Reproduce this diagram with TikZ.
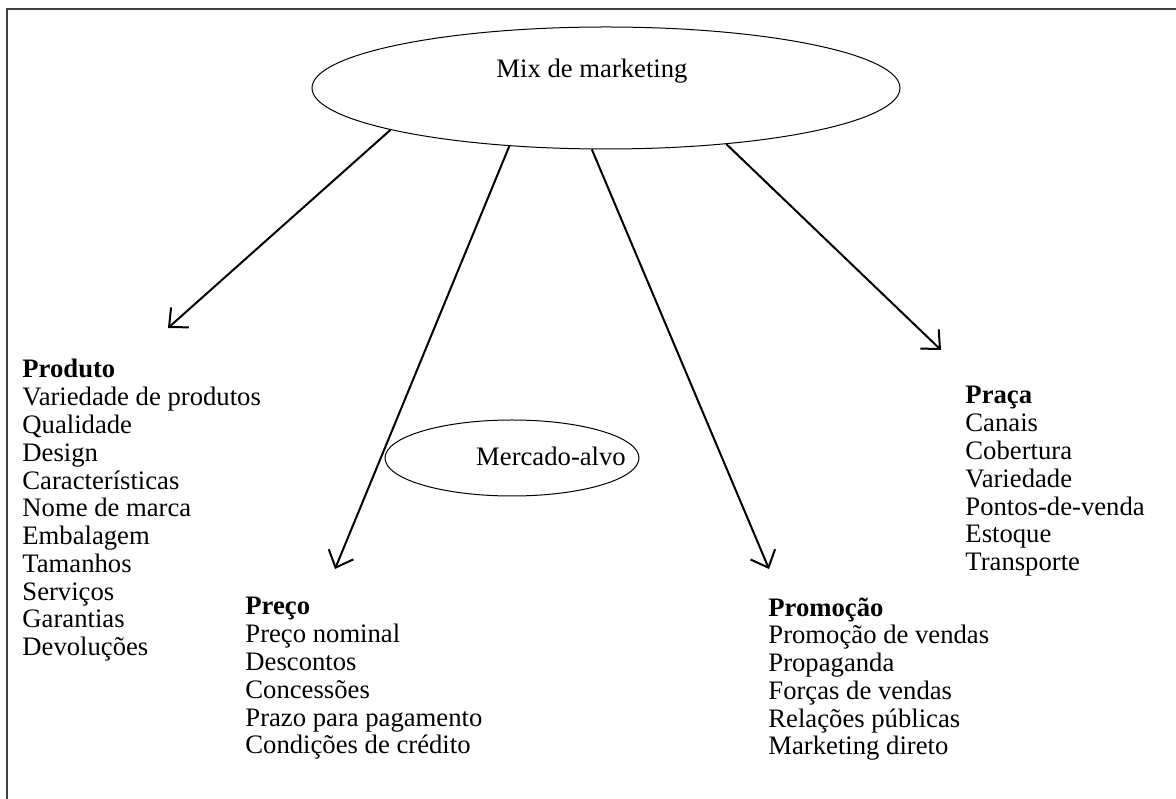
\documentclass[tikz,border=0pt]{standalone}
\usepackage{fontspec}
\setmainfont{Liberation Serif}
\usetikzlibrary{arrows.meta, shapes.geometric, positioning}

\begin{document}
\begin{tikzpicture}[x=0.45pt, y=-0.45pt, >={Straight Barb[length=6.5pt, width=12pt, line width=0.9pt]}]
    \tikzset{
        oval/.style={draw, ellipse, line width=0.45pt, inner sep=0pt},
        txt/.style={inner sep=0pt, font=\fontsize{12pt}{12.5pt}\selectfont},
        list/.style={txt, align=left, anchor=north west},
        branch/.style={line width=0.9pt, ->}
    }
    % Page and frame
    \clip (0,0) rectangle (1176,799);
    \fill[white] (0,0) rectangle (1176,799);
    \draw[line width=0.7pt, black!75] (7,9) rectangle (1200,820);

    % Mix de marketing
    \node[oval, minimum width=264.6pt, minimum height=54.9pt] (mix) at (606,88) {};
    \node[txt] (mixlabel) at (592,71) {Mix de marketing};

    % Mercado-alvo
    \node[oval, minimum width=114.3pt, minimum height=34.2pt] (alvo) at (512,458) {};
    \node[txt] (alvolabel) at (551,456) {Mercado-alvo};

    % Arrow tips
    \coordinate (prodtip) at (168,328);
    \coordinate (precotip) at (335,569);
    \coordinate (promotip) at (769,569);
    \coordinate (pracatip) at (941,350);

    % Lists
    \node[list] (produto) at (22,359) {\textbf{Produto}\\ Variedade de produtos\\ Qualidade\\ Design\\ Características\\ Nome de marca\\ Embalagem\\ Tamanhos\\ Serviços\\ Garantias\\ Devoluções};
    \node[list] (preco) at (245,597) {\textbf{Preço}\\ Preço nominal\\ Descontos\\ Concessões\\ Prazo para pagamento\\ Condições de crédito};
    \node[list] (promocao) at (768,597) {\textbf{Promoção}\\ Promoção de vendas\\ Propaganda\\ Forças de vendas\\ Relações públicas\\ Marketing direto};
    \node[list] (praca) at (965,386) {\textbf{Praça}\\ Canais\\ Cobertura\\ Variedade\\ Pontos-de-venda\\ Estoque\\ Transporte};

    % Branches
    \draw[branch] (mix.191.5) -- (prodtip);
    \draw[branch] (mix.211.5) -- (precotip);
    \draw[branch] (mix.257) -- (promotip);
    \draw[branch] (mix.335) -- (pracatip);
\end{tikzpicture}
\end{document}
